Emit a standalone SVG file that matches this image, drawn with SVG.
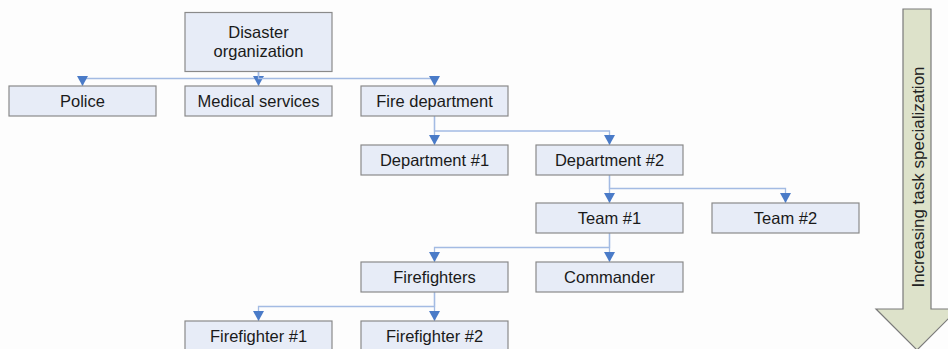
<svg xmlns="http://www.w3.org/2000/svg" width="948" height="349" viewBox="0 0 948 349">
<style>
.box{fill:#e7ecf7;stroke:#8a8a8a;stroke-width:1.2}
.lbl{font-family:"Liberation Sans",Arial,sans-serif;font-size:16.5px;fill:#1a1a1a;text-anchor:middle}
.con{fill:none;stroke:#a3bbe3;stroke-width:1.3;marker-end:url(#ah)}
</style>
<defs>
<marker id="ah" viewBox="0 0 10 11" refX="10" refY="5.5" markerWidth="10" markerHeight="11" markerUnits="userSpaceOnUse" orient="auto">
<path d="M0,0 L10,5.5 L0,11 z" fill="#4a7bc8"/>
</marker>
</defs>
<rect width="948" height="349" fill="#fdfdfd"/>
<g id="connectors">
<path class="con" d="M258.5,72 V78.5 H82.5 V86"/>
<path class="con" d="M258.5,72 V86"/>
<path class="con" d="M258.5,72 V78.5 H434.5 V86"/>
<path class="con" d="M434.5,116 V145"/>
<path class="con" d="M434.5,116 V131 H609.5 V145"/>
<path class="con" d="M609.5,175 V203"/>
<path class="con" d="M609.5,175 V188.5 H785.5 V203"/>
<path class="con" d="M609.5,233 V247.5 H434.5 V262"/>
<path class="con" d="M609.5,233 V262"/>
<path class="con" d="M434.5,292 V306.5 H258.5 V321"/>
<path class="con" d="M434.5,292 V321"/>
</g>
<g id="disaster"><rect class="box" x="185" y="12.5" width="147" height="59"/><text class="lbl" x="258.5" y="37.5">Disaster</text><text class="lbl" x="258.5" y="57">organization</text></g>
<g id="police"><rect class="box" x="9" y="86" width="147" height="30"/><text class="lbl" x="82.5" y="106.5">Police</text></g>
<g id="medical"><rect class="box" x="185" y="86" width="147" height="30"/><text class="lbl" x="258.5" y="106.5">Medical services</text></g>
<g id="fire"><rect class="box" x="361" y="86" width="147" height="30"/><text class="lbl" x="434.5" y="106.5">Fire department</text></g>
<g id="dept1"><rect class="box" x="361" y="145" width="147" height="30"/><text class="lbl" x="434.5" y="165.5">Department #1</text></g>
<g id="dept2"><rect class="box" x="536" y="145" width="147" height="30"/><text class="lbl" x="609.5" y="165.5">Department #2</text></g>
<g id="team1"><rect class="box" x="536" y="203" width="147" height="30"/><text class="lbl" x="609.5" y="223.5">Team #1</text></g>
<g id="team2"><rect class="box" x="712" y="203" width="147" height="30"/><text class="lbl" x="785.5" y="223.5">Team #2</text></g>
<g id="firefighters"><rect class="box" x="361" y="262" width="147" height="30"/><text class="lbl" x="434.5" y="282.5">Firefighters</text></g>
<g id="commander"><rect class="box" x="536" y="262" width="147" height="30"/><text class="lbl" x="609.5" y="282.5">Commander</text></g>
<g id="ff1"><rect class="box" x="185" y="321" width="147" height="30"/><text class="lbl" x="258.5" y="341.5">Firefighter #1</text></g>
<g id="ff2"><rect class="box" x="361" y="321" width="147" height="30"/><text class="lbl" x="434.5" y="341.5">Firefighter #2</text></g>
<g id="arrow">
<polygon points="903,9 931,9 931,309 958,309 917,350 876,309 903,309" fill="#dde2ca" stroke="#7a7a7a" stroke-width="1.2"/>
<text transform="translate(923.5,177) rotate(-90)" font-family="'Liberation Sans',Arial,sans-serif" font-size="17" fill="#222" text-anchor="middle">Increasing task specialization</text>
</g>
</svg>
